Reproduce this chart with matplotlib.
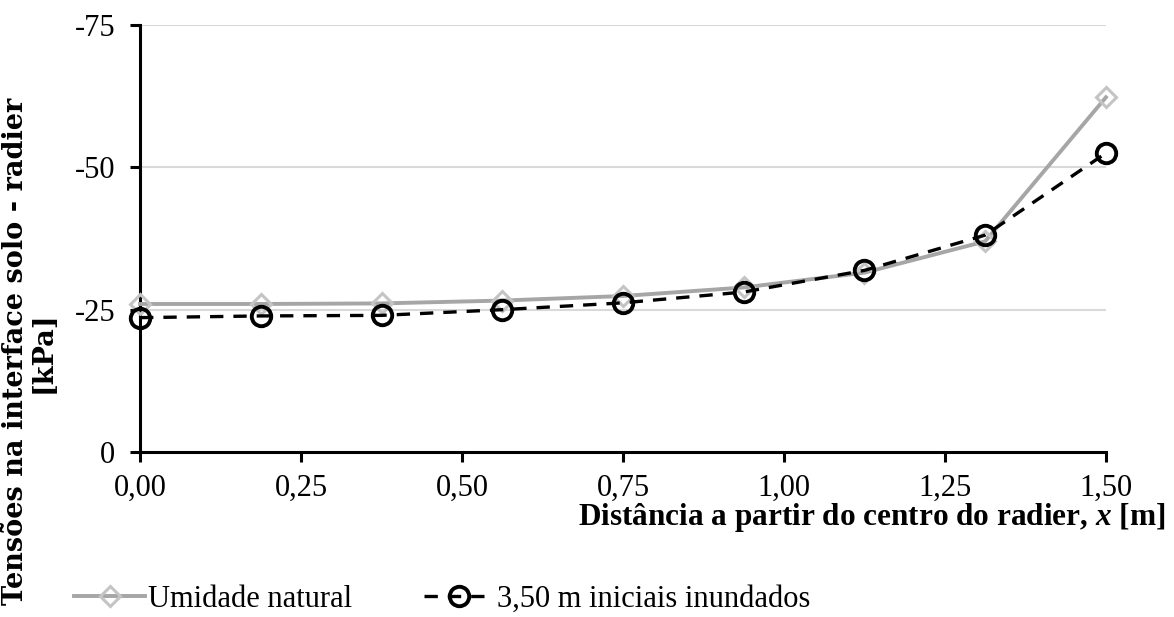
import matplotlib.pyplot as plt
import numpy as np

# dados
x = [0.0, 0.1875, 0.375, 0.5625, 0.75, 0.9375, 1.125, 1.3125, 1.5]
umidade_natural = [-26.0, -26.0, -26.1, -26.6, -27.4, -28.9, -31.5, -37.0, -62.3]
inundados = [-23.6, -23.9, -24.0, -25.0, -26.2, -28.1, -31.9, -38.1, -52.5]
xticks = [0.0, 0.25, 0.5, 0.75, 1.0, 1.25, 1.5]
yticks = [0, -25, -50, -75]

plt.rcParams['font.family'] = ['Liberation Serif', 'DejaVu Serif']
plt.rcParams['mathtext.fontset'] = 'custom'
plt.rcParams['mathtext.bfit'] = 'Liberation Serif:bold:italic'
plt.rcParams['mathtext.it'] = 'Liberation Serif:italic'

fig = plt.figure(figsize=(11.74, 6.17), dpi=100)
ax = fig.add_axes([0.1193, 0.2674, 0.8227, 0.6921])

ax.plot(x, umidade_natural, color="#a6a6a6", lw=2.8, marker="D", ms=10,
        mfc="none", mec="#c4c4c4", mew=2.2, label="Umidade natural", zorder=3)
ax.plot(x, inundados, color="black", lw=2.4, ls=(0, (4, 3)), marker="o", ms=14,
        mfc="none", mec="black", mew=2.8, label="3,50 m iniciais inundados", zorder=4)

ax.set_xlim(0, 1.5)
ax.set_ylim(0, -75)
ax.set_xticks(xticks)
ax.set_xticklabels([f"{v:.2f}".replace(".", ",") for v in xticks])
ax.set_yticks(yticks)
ax.set_yticklabels([str(v) for v in yticks])

ax.grid(axis="y", color="#d9d9d9", lw=1.5, zorder=0)
ax.set_axisbelow(True)
ax.spines['top'].set_visible(False)
ax.spines['right'].set_visible(False)
ax.spines['left'].set_linewidth(2.2)
ax.spines['bottom'].set_linewidth(2.2)
ax.tick_params(axis="both", direction="out", length=7, width=2.2, labelsize=22)
ax.tick_params(axis="x", pad=9)
ax.tick_params(axis="y", pad=11)

for ln in ax.get_lines():
    ln.set_clip_on(False)

fig.text(0.993, 0.162, "Distância a partir do centro do radier, $\\mathbfit{x}$ [m]",
         ha="right", va="center", fontsize=22.5, fontweight="bold")
fig.text(0.025, 0.43, "Tensões na interface solo - radier\n[kPa]", rotation=90,
         ha="center", va="center", fontsize=19.5, fontweight="bold", linespacing=1.0,
         family="DejaVu Serif")

leg = fig.legend(loc="lower left", bbox_to_anchor=(0.04, -0.04), ncol=2, frameon=False,
                 fontsize=22, handlelength=2.3, columnspacing=2.35, handletextpad=0.1)

fig.savefig("out.png", dpi=100)
